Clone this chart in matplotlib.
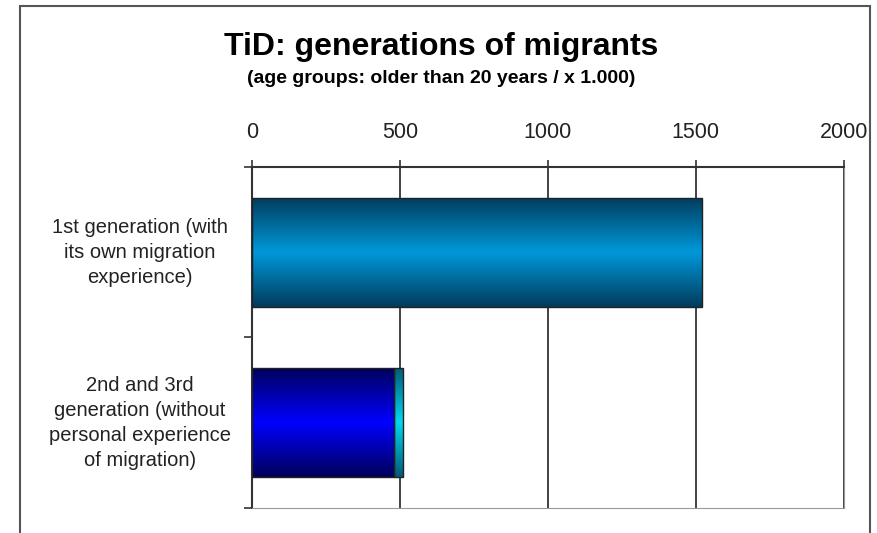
import numpy as np
import matplotlib.pyplot as plt
import matplotlib.transforms as mtransforms
from matplotlib.patches import Rectangle
from matplotlib.colors import LinearSegmentedColormap

plt.rcParams['font.family'] = ['Liberation Sans', 'DejaVu Sans']

# data (x 1.000)
categories = ["1st generation (with\nits own migration\nexperience)",
              "2nd and 3rd\ngeneration (without\npersonal experience\nof migration)"]
main_values = [1520, 480]
extra_values = [0, 30]
xticks = [0, 500, 1000, 1500, 2000]

# gradient colours (edge, centre)
main_colors = [("#003c5c", "#0098da"), ("#00005a", "#0000ff")]
extra_colors = ("#005a78", "#00d8f2")


def fill_gradient(ax, patch, edge, centre):
    # vertical gradient dark-light-dark clipped to the bar
    cmap = LinearSegmentedColormap.from_list("g", [edge, centre, edge])
    x0, y0 = patch.get_x(), patch.get_y()
    w, h = patch.get_width(), patch.get_height()
    if w <= 0:
        return
    grad = np.linspace(0, 1, 256).reshape(-1, 1)
    im = ax.imshow(grad, cmap=cmap, aspect='auto', extent=(x0, x0 + w, y0 + h, y0),
                   zorder=2, interpolation='bicubic')
    im.set_clip_path(patch)
    patch.set_facecolor('none')


fig = plt.figure(figsize=(8.78, 5.33), dpi=100)
ax = fig.add_axes([0.287, 0.047, 0.674, 0.640])

y = np.arange(len(categories))
bars = ax.barh(y, main_values, height=0.64, edgecolor='#222222', linewidth=1, zorder=3)
caps = ax.barh(y, extra_values, left=main_values, height=0.64,
               edgecolor='#222222', linewidth=1, zorder=3)
for b, (e, c) in zip(bars, main_colors):
    fill_gradient(ax, b, e, c)
for b, v in zip(caps, extra_values):
    if v > 0:
        fill_gradient(ax, b, *extra_colors)
    else:
        b.set_visible(False)

ax.set_xlim(0, 2000)
ax.set_ylim(len(categories) - 0.5, -0.5)
ax.xaxis.tick_top()
ax.set_xticks(xticks)
ax.tick_params(axis='x', direction='out', length=5, width=1.2, color='#333333',
               labelsize=15.5, pad=12, labelcolor='#222222')
ax.xaxis.grid(True, color='#333333', linewidth=1.3, zorder=1)
ax.set_axisbelow(True)

# category labels centred to the left, boundary ticks on the y axis
ax.set_yticks(y)
ax.set_yticklabels([])
ax.tick_params(axis='y', which='major', length=0)
ax.set_yticks(np.arange(len(categories) + 1) - 0.5, minor=True)
ax.tick_params(axis='y', which='minor', length=6, width=1.2, color='#333333')
trans = mtransforms.blended_transform_factory(ax.transAxes, ax.transData)
for yi, lab in zip(y, categories):
    ax.text(-0.189, yi, lab, transform=trans, ha='center', va='center',
            multialignment='center', fontsize=14.5, linespacing=1.4, color='#222222')

ax.spines['top'].set_color('#333333')
ax.spines['top'].set_linewidth(1.5)
ax.spines['left'].set_color('#333333')
ax.spines['left'].set_linewidth(1.5)
ax.spines['right'].set_color('#999999')
ax.spines['bottom'].set_color('#999999')

fig.text(0.503, 0.912, "TiD: generations of migrants", ha='center', va='center',
         fontsize=23, fontweight='bold')
fig.text(0.503, 0.853, "(age groups: older than 20 years / x 1.000)", ha='center',
         va='center', fontsize=14, fontweight='bold')

# outer chart frame
fig.patches.append(Rectangle((20 / 878, -0.05), 850 / 878, 1.039, transform=fig.transFigure,
                             fill=False, edgecolor='#555555', linewidth=1.5))

fig.savefig("out.png", dpi=100)
